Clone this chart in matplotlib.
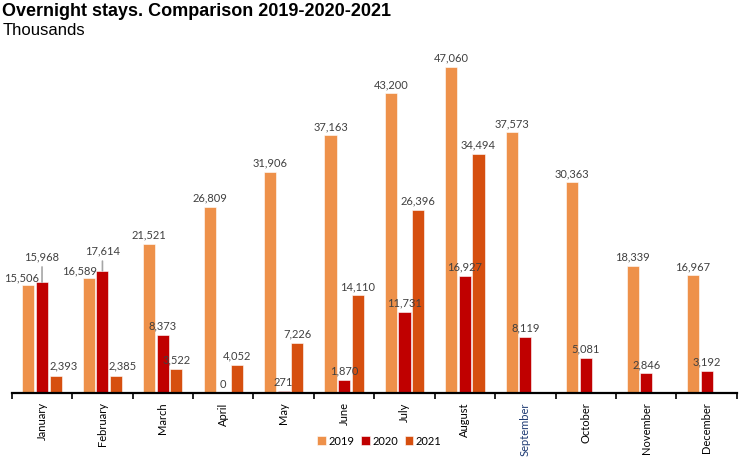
import matplotlib.pyplot as plt
import numpy as np

# Data (thousands)
months = ['January', 'February', 'March', 'April', 'May', 'June', 'July',
          'August', 'September', 'October', 'November', 'December']
stays_2019 = [15506, 16589, 21521, 26809, 31906, 37163, 43200, 47060, 37573, 30363, 18339, 16967]
stays_2020 = [15968, 17614, 8373, 0, 271, 1870, 11731, 16927, 8119, 5081, 2846, 3192]
stays_2021 = [2393, 2385, 3522, 4052, 7226, 14110, 26396, 34494]

colors = {'2019': '#EE914A', '2020': '#C00000', '2021': '#D64F0F'}

fig = plt.figure(figsize=(7.39, 4.60), dpi=100)
ax = fig.add_axes([0.016, 0.1435, 0.981, 0.754])

x = np.arange(len(months))
w = 0.2
series = [('2019', stays_2019, -0.225), ('2020', stays_2020, 0.0), ('2021', stays_2021, 0.225)]

# manual label nudges (in points) for the crowded Jan/Feb labels
nudge = {('2019', 0): (-5, 2), ('2020', 0): (0, 15), ('2021', 0): (6, 4),
         ('2019', 1): (-7, 2), ('2020', 1): (0, 11), ('2021', 1): (5, 4)}

for name, vals, off in series:
    xs = x[:len(vals)] + off
    ax.bar(xs, vals, width=w, color=colors[name], label=name,
           edgecolor='white', linewidth=0.4)
    for i, (xi, v) in enumerate(zip(xs, vals)):
        dx, dy = nudge.get((name, i), (0, 3))
        kw = {}
        if dy > 5:
            kw['arrowprops'] = dict(arrowstyle='-', color='#A6A6A6', lw=1.2,
                                    shrinkA=2, shrinkB=0)
        ax.annotate(f'{v:,}', (xi, v), xytext=(dx, dy), textcoords='offset points',
                    ha='center', va='bottom', fontsize=8, color='#404040',
                    family='Lato', **kw)

ax.set_xlim(-0.5, len(months) - 0.5)
ax.set_ylim(0, 50000)
ax.set_yticks([])
for s in ['left', 'right', 'top']:
    ax.spines[s].set_visible(False)
ax.spines['bottom'].set_linewidth(1.6)

ax.set_xticks(x)
ax.set_xticklabels(months, rotation=90, fontsize=8, family='Lato', color='black')
ax.get_xticklabels()[8].set_color('#1F3B73')
ax.tick_params(axis='x', which='major', length=0, pad=6)
ax.set_xticks(np.arange(-0.5, len(months)), minor=True)
ax.tick_params(axis='x', which='minor', length=4, width=1.2, direction='out')

ax.legend(loc='upper center', bbox_to_anchor=(0.507, -0.093), ncol=3, frameon=False,
          prop={'family': 'Lato', 'size': 8}, handlelength=0.8,
          handleheight=0.8, handletextpad=0.2, columnspacing=0.6)

fig.text(0.003, 0.993, 'Overnight stays. Comparison 2019-2020-2021', fontsize=13,
         fontweight='bold', family='Liberation Sans', va='top')
fig.text(0.003, 0.950, 'Thousands', fontsize=12, family='Liberation Sans', va='top')

fig.savefig('out.png', dpi=100)
